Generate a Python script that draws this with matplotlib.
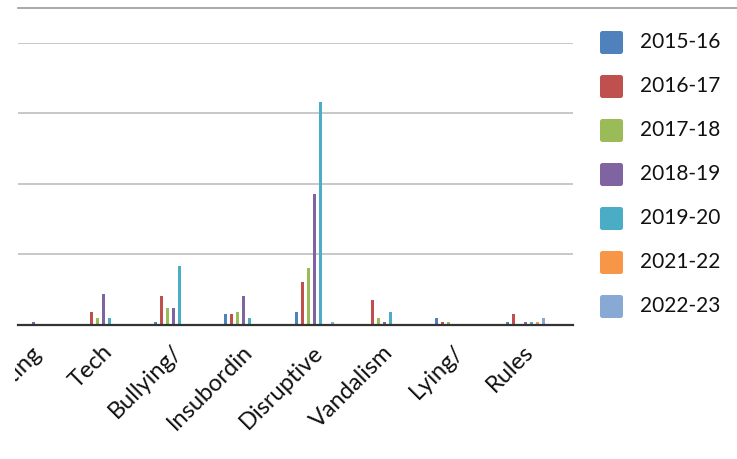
import numpy as np
import matplotlib.pyplot as plt
from matplotlib.patches import FancyBboxPatch
from matplotlib.transforms import Bbox, TransformedBbox

plt.rcParams['font.family'] = ['Lato', 'DejaVu Sans']

categories = ["Fighting", "Tech", "Bullying/", "Insubordin", "Disruptive",
              "Vandalism", "Lying/", "Rules"]
years = ["2015-16", "2016-17", "2017-18", "2018-19", "2019-20", "2021-22", "2022-23"]

y2015 = [0, 0, 0.8, 3.0, 3.6, 0, 1.9, 0.8]
y2016 = [0, 3.6, 8.2, 3.0, 12.1, 7.0, 0.8, 3.0]
y2017 = [0, 1.9, 4.7, 3.6, 16.1, 1.9, 0.8, 0]
y2018 = [0.8, 8.7, 4.7, 8.2, 37.1, 0.8, 0, 0.8]
y2019 = [0, 1.9, 16.7, 1.9, 63.3, 3.6, 0, 0.8]
y2021 = [0, 0, 0, 0, 0, 0, 0, 0.8]
y2022 = [0, 0, 0, 0, 0.8, 0, 0, 1.9]
series = [y2015, y2016, y2017, y2018, y2019, y2021, y2022]

colores = ["#4F81BD", "#C0504D", "#9BBB59", "#8064A2", "#4BACC6", "#F79646", "#87A9D3"]

W, H = 737, 459
fig = plt.figure(figsize=(W / 100, H / 100), dpi=100)
ax = fig.add_axes([18 / W, (H - 324.5) / H, 555 / W, (324.5 - 43) / H])

x = np.arange(len(categories))
paso = 6 / 70.3
ancho = 3 / 70.3
for k, (vals, c) in enumerate(zip(series, colores)):
    ax.bar(x + (k - 3) * paso, vals, width=ancho, color=c, linewidth=0, zorder=2)

ax.set_xlim(-15 / 70.3, 540 / 70.3)
ax.set_ylim(0, 80)
ax.set_yticks([20, 40, 60, 80])
ax.yaxis.grid(True, color="#c8c8c8", linewidth=1.4)
ax.set_axisbelow(True)
ax.tick_params(left=False, bottom=False, labelleft=False, labelbottom=False)
for s in ["left", "right", "top"]:
    ax.spines[s].set_visible(False)
ax.spines["bottom"].set_color("#333333")
ax.spines["bottom"].set_linewidth(1.6)
ax.spines["bottom"].set_zorder(3)

# etiquetas rotadas, recortadas en el borde izquierdo del grafico
recorte = TransformedBbox(Bbox.from_extents(15 / W, 0, 1, 1), fig.transFigure)
for i, lab in enumerate(categories):
    t = ax.annotate(lab, xy=(i, 0), xycoords=ax.get_xaxis_transform(),
                    xytext=(-2 * 0.72, -17 * 0.72), textcoords="offset points",
                    rotation=45, ha="right", va="top", rotation_mode="anchor",
                    fontsize=17, color="#111111", annotation_clip=False)
    t.set_clip_box(recorte)
    t.set_clip_on(True)

# capa en pixeles para la linea superior y la leyenda
capa = fig.add_axes([0, 0, 1, 1], zorder=5)
capa.set_xlim(0, W)
capa.set_ylim(H, 0)
capa.axis("off")
capa.plot([18, W], [8, 8], color="#999999", linewidth=1.2)

for k, (yr, c) in enumerate(zip(years, colores)):
    yc = 42.5 + k * 44
    capa.add_patch(FancyBboxPatch((600, yc - 11.5), 23, 23,
                                  boxstyle="round,pad=0,rounding_size=2.5",
                                  facecolor=c, edgecolor="none"))
    capa.text(640, yc, yr, fontsize=15, va="center", ha="left", color="#111111")

fig.savefig("out.png", dpi=100)
